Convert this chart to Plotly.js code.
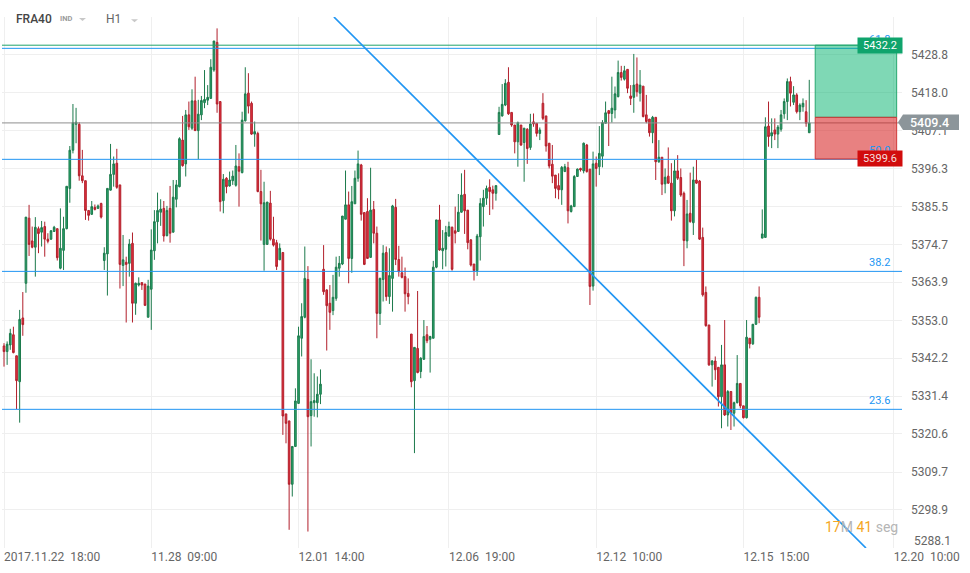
<!DOCTYPE html>
<html><head><meta charset="utf-8">
<script src="https://cdn.plot.ly/plotly-3.0.1.min.js"></script>
<style>html,body{margin:0;padding:0;background:#fff}#chart{width:970px;height:573px}</style>
</head><body><div id="chart"></div>
<script>
// ---- DATA (FRA40, H1 candles) ----
const openP = [
5345.7,5344.1,5346.0,5348.9,5342.9,5335.5,5353.7,5363.6,5382.2,5375.7,5373.9,5379.2,5378.2,5379.8,5376.2,5376.2,5378.4,5379.2,5367.9,5373.0,
5379.2,5390.7,5401.6,5409.0,5409.0,5394.3,5392.9,5384.4,5383.3,5385.3,5385.0,5386.4,5370.1,5372.0,5390.2,5394.7,5397.9,5391.7,5368.7,5369.6,
5369.3,5375.0,5357.9,5363.1,5363.8,5363.4,5353.9,
5361.9,5372.9,5381.2,5383.9,5385.0,5377.2,5385.0,5378.2,5387.6,5391.2,5404.5,5397.7,5411.7,5407.9,5415.7,5407.2,5411.7,5415.2,5415.9,5416.4,
5424.5,5432.4,5415.5,5387.2,5393.6,5391.4,5392.9,5391.6,5396.9,5395.2,5410.0,5417.9,5415.0,5406.2,5406.4,5389.8,5374.7,5374.7,5386.5,5376.2,
5375.2,5370.3,5372.4,5326.3,5324.3,5306.2,5317.0,5329.3,
5347.9,5353.9,5364.7,5325.8,5329.5,5329.5,5331.9,5367.6,5361.7,5357.9,5355.8,5359.3,5367.9,5369.1,5381.9,5386.0,5370.7,5386.3,5393.6,5397.4,
5383.8,5384.1,5371.0,5384.7,5377.9,5355.0,5364.7,5372.4,5359.8,5365.0,5385.3,5370.4,5366.6,5365.5,5360.7,5349.1,5335.8,5345.0,5338.4,5341.9,
5348.9,5347.6,5347.9,5368.2,5381.7,5372.9,5373.3,5377.1,
5379.6,5378.6,5378.4,5383.9,5389.0,5384.5,5376.0,5369.1,5367.2,5376.9,5385.5,5387.9,5391.0,5390.3,5389.3,5406.1,5411.4,5414.5,5421.0,5412.4,
5408.8,5404.0,5408.8,5403.8,5407.6,5402.4,5409.7,5409.3,5406.4,5415.0,5411.4,5403.6,5397.6,5394.5,5391.5,5390.3,5395.5,5396.6,5384.1,5385.5,
5394.1,5396.4,5395.7,5403.1,5396.2,5362.8,5397.9,5396.9,
5399.9,5409.3,5412.9,5412.1,5413.1,5416.9,5423.8,5421.9,5424.7,5417.1,5416.7,5420.5,5417.9,5419.9,5411.7,5410.5,5406.6,5411.0,5398.3,5399.6,
5392.0,5394.2,5392.2,5384.3,5395.7,5393.8,5389.3,5375.7,5383.6,5380.9,5393.1,5392.8,5376.7,5361.0,5351.7,5340.3,5341.4,5339.6,5331.2,5340.3,
5326.0,5332.7,5326.5,5329.5,5335.0,5328.6,5325.2,5347.9,5346.3,5351.9,5359.6,
5376.5,5376.7,5408.5,5405.7,5407.4,5406.2,5407.6,5412.0,5415.5,5421.2,5415.3,5417.4,5412.6,5414.0,5412.6,5406.6
];
const highP = [
5346.5,5347.0,5350.6,5351.2,5342.9,5356.0,5361.1,5382.5,5386.0,5379.8,5382.5,5379.8,5381.4,5381.2,5377.9,5378.8,5380.0,5379.2,5385.0,5382.6,
5391.3,5402.8,5414.8,5413.7,5409.6,5401.7,5392.9,5384.5,5387.1,5386.1,5386.1,5386.6,5373.9,5390.7,5403.4,5399.8,5402.0,5391.7,5377.4,5371.2,
5376.2,5378.1,5363.8,5365.3,5363.8,5363.4,5364.6,
5379.0,5384.5,5389.5,5387.6,5387.1,5385.7,5391.4,5393.1,5393.1,5405.3,5411.4,5413.1,5415.5,5419.0,5422.6,5416.0,5417.1,5424.5,5420.2,5427.6,
5432.8,5436.4,5415.5,5394.8,5393.9,5395.5,5395.8,5403.1,5400.7,5412.6,5425.3,5423.6,5415.5,5409.8,5406.9,5396.0,5392.6,5386.8,5390.0,5382.6,
5376.0,5375.0,5372.4,5326.3,5324.3,5317.0,5333.6,5351.2,
5357.9,5374.1,5368.5,5341.9,5337.9,5337.0,5339.0,5374.5,5361.9,5363.1,5366.0,5371.2,5371.4,5382.8,5395.8,5389.8,5391.4,5395.8,5401.5,5397.7,
5383.8,5387.9,5396.6,5387.1,5379.8,5365.2,5374.5,5374.1,5373.6,5386.0,5387.7,5374.3,5371.2,5368.1,5365.0,5349.1,5345.3,5361.4,5342.5,5353.1,
5351.4,5348.6,5370.0,5381.7,5386.0,5378.8,5380.0,5381.2,
5379.8,5385.5,5389.1,5395.0,5396.0,5384.5,5376.2,5369.1,5377.7,5387.9,5390.3,5391.5,5393.3,5391.5,5391.5,5414.0,5420.5,5421.9,5425.3,5412.4,
5408.8,5409.8,5408.8,5407.9,5407.9,5412.0,5412.1,5409.3,5408.1,5417.9,5411.4,5403.6,5403.1,5394.5,5395.0,5397.1,5397.7,5398.3,5386.0,5394.5,
5396.4,5396.6,5403.8,5403.4,5396.2,5401.2,5399.8,5408.5,
5410.2,5415.5,5413.1,5422.6,5419.8,5427.2,5425.7,5425.7,5424.7,5420.2,5429.1,5428.1,5424.5,5419.9,5417.4,5410.5,5411.4,5411.0,5404.5,5399.6,
5396.4,5402.4,5397.9,5398.8,5400.2,5396.4,5389.8,5387.4,5395.2,5396.9,5398.8,5393.1,5379.5,5362.7,5351.7,5341.7,5342.7,5339.6,5346.0,5353.1,
5333.1,5332.7,5329.8,5343.1,5335.0,5328.6,5353.1,5347.9,5351.9,5359.8,5362.7,
5384.7,5411.0,5415.5,5410.7,5410.7,5408.8,5413.1,5416.4,5422.1,5422.6,5419.9,5417.9,5415.0,5416.4,5415.9,5421.7
];
const lowP = [
5339.8,5340.3,5344.6,5343.6,5327.7,5323.8,5348.6,5360.9,5371.4,5373.6,5365.5,5372.2,5374.1,5371.2,5375.0,5376.0,5378.3,5370.1,5367.6,5367.4,
5379.0,5386.6,5400.7,5403.6,5392.9,5392.2,5381.7,5381.5,5383.1,5384.4,5384.8,5382.1,5367.4,5360.1,5390.1,5391.2,5390.6,5362.1,5362.8,5352.4,
5365.5,5352.4,5354.6,5362.7,5361.7,5357.1,5353.9,
5350.3,5370.3,5375.0,5380.0,5375.5,5377.0,5375.2,5378.1,5385.3,5391.0,5396.9,5394.1,5407.4,5407.4,5407.1,5399.1,5410.2,5413.6,5414.5,5416.4,
5424.0,5412.3,5384.1,5383.6,5389.3,5391.2,5391.7,5391.2,5385.5,5395.0,5409.8,5412.1,5406.0,5402.6,5389.6,5375.8,5367.2,5374.6,5375.8,5374.1,
5367.4,5370.3,5320.3,5317.9,5293.2,5302.7,5317.0,5329.3,
5342.7,5353.6,5292.7,5317.0,5325.5,5325.3,5329.1,5360.3,5344.4,5350.3,5354.5,5358.6,5365.5,5368.8,5381.9,5363.6,5366.6,5386.3,5392.6,5381.5,
5368.8,5370.7,5371.0,5375.0,5347.9,5351.7,5358.4,5358.6,5357.7,5355.5,5368.8,5365.5,5365.0,5355.5,5357.6,5333.9,5315.1,5337.9,5336.5,5341.7,
5346.5,5338.1,5347.9,5367.9,5372.9,5367.6,5368.4,5376.9,
5367.2,5375.0,5378.4,5383.8,5377.7,5373.3,5368.4,5364.4,5365.7,5370.1,5379.8,5386.0,5383.1,5384.7,5387.2,5406.1,5411.2,5414.2,5411.7,5408.3,
5400.7,5396.9,5402.8,5392.6,5397.7,5401.7,5408.3,5405.5,5404.5,5410.2,5401.2,5396.4,5392.2,5387.9,5387.6,5386.0,5395.5,5380.7,5383.8,5385.5,
5394.1,5395.5,5395.0,5395.2,5357.4,5361.5,5391.2,5394.5,
5396.7,5409.3,5402.8,5409.5,5410.7,5416.7,5421.5,5421.5,5417.9,5414.5,5412.3,5416.9,5415.5,5411.0,5409.3,5405.5,5403.6,5393.1,5398.0,5388.8,
5389.3,5392.0,5381.5,5382.7,5393.1,5388.3,5368.5,5373.6,5380.9,5377.4,5392.0,5376.0,5359.8,5351.2,5340.0,5334.1,5336.0,5328.4,5322.2,5325.7,
5322.7,5321.7,5322.7,5329.3,5327.9,5325.0,5325.0,5345.0,5346.0,5351.7,5352.2,
5376.5,5376.7,5402.6,5402.2,5404.5,5402.2,5406.9,5410.6,5410.2,5414.1,5414.5,5412.1,5410.2,5412.6,5408.3,5406.6
];
const closeP = [
5344.1,5346.2,5349.3,5343.8,5335.8,5353.3,5351.8,5382.5,5374.7,5373.9,5379.6,5377.8,5379.5,5376.2,5375.6,5378.6,5379.6,5370.9,5373.6,5379.2,
5391.3,5401.6,5409.5,5409.6,5394.3,5392.9,5384.4,5383.0,5385.5,5384.7,5385.7,5382.5,5372.2,5390.7,5394.7,5397.7,5391.0,5369.0,5370.3,5369.0,
5374.8,5357.9,5363.6,5363.6,5363.1,5357.3,5362.8,
5373.1,5381.2,5384.4,5384.8,5377.1,5384.4,5377.9,5388.2,5391.7,5404.9,5397.2,5411.7,5408.3,5415.7,5407.2,5411.9,5415.8,5416.1,5416.7,5425.3,
5432.8,5414.8,5386.9,5393.3,5391.2,5393.1,5394.2,5397.1,5395.6,5410.2,5417.7,5414.2,5406.2,5406.9,5389.8,5386.3,5386.6,5386.8,5376.2,5374.5,
5368.4,5373.6,5325.7,5323.6,5306.2,5317.0,5330.0,5348.6,
5354.1,5365.0,5325.5,5329.8,5330.1,5331.9,5334.8,5361.2,5357.2,5355.3,5359.6,5368.2,5369.3,5382.8,5386.0,5370.7,5386.9,5393.6,5397.7,5383.3,
5369.0,5370.7,5384.5,5377.9,5355.0,5365.0,5372.2,5359.8,5365.8,5385.7,5370.4,5366.9,5365.3,5360.6,5359.8,5335.5,5345.3,5338.1,5342.2,5348.4,
5347.2,5348.4,5368.2,5381.7,5373.1,5373.6,5378.1,5379.8,
5367.6,5377.9,5383.9,5388.8,5384.3,5375.2,5368.8,5367.2,5377.1,5386.4,5387.9,5390.7,5389.8,5389.3,5391.5,5412.4,5414.7,5420.7,5412.0,5408.8,
5404.0,5409.5,5403.1,5407.9,5402.1,5409.1,5409.1,5406.4,5407.4,5410.7,5402.8,5397.1,5394.2,5390.7,5390.3,5396.7,5396.9,5384.3,5385.7,5394.1,
5396.2,5396.0,5403.6,5395.5,5362.7,5397.7,5396.4,5400.7,
5409.5,5412.3,5412.1,5413.6,5417.7,5423.8,5422.4,5424.3,5419.3,5416.4,5420.2,5418.3,5420.2,5411.2,5409.8,5406.6,5411.0,5398.3,5399.6,5391.9,
5393.9,5392.2,5384.3,5395.7,5393.6,5388.8,5375.8,5383.4,5381.2,5393.1,5392.2,5376.2,5360.3,5351.5,5340.3,5341.4,5338.9,5331.2,5340.3,5326.0,
5332.7,5326.5,5329.5,5335.0,5328.6,5325.2,5348.2,5346.3,5351.9,5359.6,5353.9,
5377.7,5408.3,5405.5,5406.6,5406.2,5408.2,5411.7,5415.5,5421.2,5417.9,5417.4,5412.6,5414.5,5415.0,5409.3,5409.4
];
// time labels on the x axis (bar index where each label sits)
const timeLabels = ["2017.11.22\u00a0\u00a018:00","11.28\u00a0\u00a009:00","12.01\u00a0\u00a014:00","12.06\u00a0\u00a019:00","12.12\u00a0\u00a010:00","12.15\u00a0\u00a015:00","12.20\u00a0\u00a010:00"];
const timeLabelBars = [0, 47, 94, 142, 189, 236, 284];
// price axis ticks
const priceTicks = [5288.1,5298.9,5309.7,5320.6,5331.4,5342.2,5353.0,5363.9,5374.7,5385.5,5396.3,5407.1,5418.0,5428.8];
// drawings on the chart
const fibLevels = [5327.6, 5367.0, 5399.0, 5430.7];
const fibNames  = ["23.6", "38.2", "50.0", "61.8"];
const lastPrice = 5409.4;
const takeProfit = 5431.6, entryPrice = 5411.0, stopLoss = 5399.1;
const tpText = "5432.2", slText = "5399.6";
const trendStart = [105.3, 5439.65], trendEnd = [275.1, 5288.0];
const positionBars = [258.9, 284.9];

// ---- CHART ----
const bars = openP.map((_, i) => i);
const px2paperX = p => (p - 2) / 900;
const px2paperY = p => (548 - p) / 531;
const Y0 = 5288.0, Y1 = 5439.65;
const px2price = p => Y1 - (p - 17) * (Y1 - Y0) / 531;

const trace = {
  type: 'candlestick', x: bars, open: openP, high: highP, low: lowP, close: closeP,
  increasing: { line: { color: '#1c7a4c', width: 1 }, fillcolor: '#2aa56c' },
  decreasing: { line: { color: '#b11f2b', width: 1 }, fillcolor: '#e5323e' },
  whiskerwidth: 0, hoverinfo: 'skip', showlegend: false
};

const blue = '#2196f3';
const shapes = [];
fibLevels.forEach(v => shapes.push({ type: 'line', xref: 'paper', x0: 0, x1: 1, yref: 'y', y0: v, y1: v, line: { color: blue, width: 1 } }));
shapes.push({ type: 'line', xref: 'paper', x0: 0, x1: 1, yref: 'y', y0: takeProfit, y1: takeProfit, line: { color: '#1ea36b', width: 1 } });
shapes.push({ type: 'line', xref: 'paper', x0: 0, x1: 1, yref: 'y', y0: lastPrice, y1: lastPrice, line: { color: '#8e8e8e', width: 1 } });
shapes.push({ type: 'rect', xref: 'x', yref: 'y', x0: positionBars[0], x1: positionBars[1], y0: entryPrice, y1: takeProfit,
  fillcolor: 'rgba(0,178,108,0.5)', line: { color: '#28a870', width: 1 } });
shapes.push({ type: 'rect', xref: 'x', yref: 'y', x0: positionBars[0], x1: positionBars[1], y0: stopLoss, y1: entryPrice,
  fillcolor: 'rgba(214,30,30,0.56)', line: { color: '#d03a3a', width: 1 } });
shapes.push({ type: 'line', xref: 'x', yref: 'y', x0: trendStart[0], y0: trendStart[1], x1: trendEnd[0], y1: trendEnd[1], line: { color: blue, width: 1.7 } });
// last price tag (arrow + box)
const tagTop = px2price(114.5), tagBot = px2price(130), tagMid = px2price(122.3);
shapes.push({ type: 'path', xref: 'paper', yref: 'y',
  path: `M ${px2paperX(898)} ${tagMid} L ${px2paperX(903)} ${tagTop} L ${px2paperX(959)} ${tagTop} L ${px2paperX(959)} ${tagBot} L ${px2paperX(903)} ${tagBot} Z`,
  fillcolor: '#8c959a', line: { width: 0 } });
// header carets
[[79, 86, 18.0], [131, 138, 19.2]].forEach(c => shapes.push({ type: 'path', xref: 'paper', yref: 'paper',
  path: `M ${px2paperX(c[0])} ${px2paperY(c[2])} L ${px2paperX(c[1])} ${px2paperY(c[2])} L ${px2paperX((c[0] + c[1]) / 2)} ${px2paperY(c[2] + 3)} Z`,
  fillcolor: '#c8c8c8', line: { width: 0 } }));

const annotations = [];
fibLevels.forEach((v, k) => annotations.push({ xref: 'paper', x: px2paperX(892), xanchor: 'right', yref: 'y', y: v, yanchor: 'middle', yshift: 9,
  text: fibNames[k], showarrow: false, font: { size: 11, color: blue } }));
annotations.push({ xref: 'paper', x: px2paperX(880), xanchor: 'center', yref: 'y', y: takeProfit, yanchor: 'middle', text: tpText, showarrow: false,
  bgcolor: '#0fa46c', width: 40, height: 11, borderpad: 2, font: { size: 11, color: '#ffffff' } });
annotations.push({ xref: 'paper', x: px2paperX(880), xanchor: 'center', yref: 'y', y: stopLoss, yanchor: 'middle', text: slText, showarrow: false,
  bgcolor: '#d10c0c', width: 40, height: 11, borderpad: 2, font: { size: 11, color: '#f4dede' } });
annotations.push({ xref: 'paper', x: px2paperX(929), xanchor: 'center', yref: 'y', y: tagMid, yanchor: 'middle', text: lastPrice.toFixed(1), showarrow: false,
  font: { size: 12.5, color: '#ffffff', weight: 500 } });
annotations.push({ xref: 'paper', x: px2paperX(912), xanchor: 'left', yref: 'paper', y: px2paperY(541), yanchor: 'middle', showarrow: false,
  text: priceTicks[0].toFixed(1), font: { size: 12, color: '#666666' } });
annotations.push({ xref: 'paper', x: px2paperX(900), xanchor: 'right', yref: 'paper', y: px2paperY(527), yanchor: 'middle', showarrow: false,
  text: '<span style="color:#f5a623">17</span><span style="color:#b5b5b5">M</span> <span style="color:#f5a623">41</span> <span style="color:#b5b5b5">seg</span>',
  font: { size: 14 } });
annotations.push({ xref: 'paper', x: px2paperX(14), xanchor: 'left', yref: 'paper', y: px2paperY(18.7), yanchor: 'middle', showarrow: false,
  text: 'FRA40', font: { size: 12, color: '#454545', weight: 500 } });
annotations.push({ xref: 'paper', x: px2paperX(57.5), xanchor: 'left', yref: 'paper', y: px2paperY(18.7), yanchor: 'middle', showarrow: false,
  text: '<b>IND</b>', font: { size: 7.5, color: '#9c9c9c' } });
annotations.push({ xref: 'paper', x: px2paperX(103.5), xanchor: 'left', yref: 'paper', y: px2paperY(18.7), yanchor: 'middle', showarrow: false,
  text: 'H1', font: { size: 12, color: '#666666' } });

const layout = {
  width: 970, height: 573,
  margin: { l: 2, r: 68, t: 17, b: 25, pad: 0 },
  paper_bgcolor: '#ffffff', plot_bgcolor: '#ffffff',
  font: { family: 'Roboto, sans-serif', size: 12, color: '#666666' },
  showlegend: false, boxgap: 0.25, dragmode: false,
  xaxis: {
    range: [-0.64, 286.6], rangeslider: { visible: false }, fixedrange: true,
    tickmode: 'array', tickvals: timeLabelBars, ticktext: timeLabels,
    ticklabelposition: 'outside right', ticks: '',
    showgrid: true, gridcolor: '#efefef', gridwidth: 1, zeroline: false, showline: false,
    tickfont: { size: 12, color: '#666666' }
  },
  yaxis: {
    side: 'right', range: [Y0, Y1], fixedrange: true,
    tickmode: 'array', tickvals: priceTicks,
    ticktext: priceTicks.map((v, k) => k === 0 ? '' : v.toFixed(1)),
    ticks: '', ticklabelstandoff: 8,
    showgrid: true, gridcolor: '#efefef', gridwidth: 1, zeroline: false, showline: false,
    tickfont: { size: 12, color: '#666666' }
  },
  shapes, annotations
};

Plotly.newPlot('chart', [trace], layout, { staticPlot: true, displayModeBar: false });
</script>
</body></html>
